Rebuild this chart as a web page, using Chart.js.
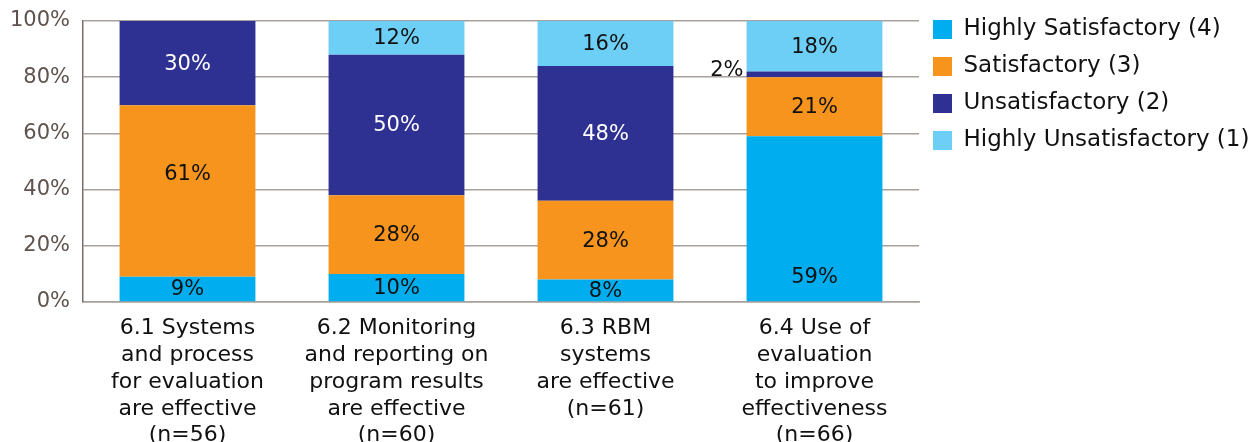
<!DOCTYPE html>
<html>
<head>
<meta charset="utf-8">
<script src="https://cdn.jsdelivr.net/npm/chart.js@4.4.0/dist/chart.umd.min.js"></script>
<style>
    body { margin: 0; background: #fff; }
    #wrap { width: 1256px; height: 442px; }
</style>
</head>
<body>
<div id="wrap"><canvas id="grafico"></canvas></div>
<script>
// categorias do eixo x (cada uma em varias linhas)
const categorias = [
    ['6.1 Systems', 'and process', 'for evaluation', 'are effective', '(n=56)'],
    ['6.2 Monitoring', 'and reporting on', 'program results', 'are effective', '(n=60)'],
    ['6.3 RBM', 'systems', 'are effective', '(n=61)'],
    ['6.4 Use of', 'evaluation', 'to improve', 'effectiveness', '(n=66)']
];

const altamenteSatisf = [9, 10, 8, 59];
const satisf = [61, 28, 28, 21];
const insatisf = [30, 50, 48, 2];
const altamenteInsatisf = [0, 12, 16, 18];

const yTicks = [0, 20, 40, 60, 80, 100];

const CORES = {
    hs: '#00aeef',
    s: '#f7941d',
    u: '#2e3192',
    hu: '#6dcff6'
};

const FONTE = '"DejaVu Sans", sans-serif';

// escreve as porcentagens dentro das barras
const rotulos = {
    id: 'rotulos',
    afterDatasetsDraw(chart, args, opts) {
        const ctx = chart.ctx;
        ctx.save();
        ctx.font = '21px ' + FONTE;
        ctx.textBaseline = 'middle';
        chart.data.datasets.forEach(function(ds, i) {
            const meta = chart.getDatasetMeta(i);
            meta.data.forEach(function(bar, j) {
                const v = ds.data[j];
                if (!v) return;
                let yc = (bar.y + bar.base) / 2;
                const desloc = opts.deslocamentos[i + '-' + j];
                if (desloc) yc += desloc; // alguns rotulos nao ficam no meio no original
                ctx.fillStyle = ds.corTexto;
                if (v < 5) {
                    // segmento muito fino: rotulo fica do lado esquerdo
                    ctx.textAlign = 'right';
                    ctx.fillStyle = '#111';
                    ctx.fillText(v + '%', bar.x - bar.width / 2 - 3, yc - 4);
                } else {
                    ctx.textAlign = 'center';
                    ctx.fillText(v + '%', bar.x, yc + 1);
                }
            });
        });
        ctx.restore();
    }
};

new Chart(document.getElementById('grafico'), {
    type: 'bar',
    data: {
        labels: categorias,
        datasets: [
            { label: 'Highly Satisfactory (4)', data: altamenteSatisf, backgroundColor: CORES.hs, corTexto: '#111' },
            { label: 'Satisfactory (3)', data: satisf, backgroundColor: CORES.s, corTexto: '#111' },
            { label: 'Unsatisfactory (2)', data: insatisf, backgroundColor: CORES.u, corTexto: '#fff' },
            { label: 'Highly Unsatisfactory (1)', data: altamenteInsatisf, backgroundColor: CORES.hu, corTexto: '#111' }
        ]
    },
    options: {
        responsive: true,
        maintainAspectRatio: false,
        animation: false,
        datasets: { bar: { categoryPercentage: 0.65, barPercentage: 1 } },
        layout: { padding: { top: 4, right: 0, left: 0, bottom: 0 } },
        plugins: {
            legend: {
                position: 'right',
                align: 'start',
                maxWidth: 337, // senao o chart.js limita a 1/4 da largura
                labels: {
                    boxWidth: 19,
                    boxHeight: 19,
                    padding: 14,
                    color: '#111',
                    font: { size: 23, family: FONTE }
                }
            },
            tooltip: { enabled: false },
            rotulos: { deslocamentos: { '1-0': -17, '0-3': 58 } }
        },
        scales: {
            x: {
                stacked: true,
                grid: { display: false },
                border: { color: '#a8a09c', width: 1.5 },
                afterFit: function(axis) { axis.height = 140; },
                ticks: {
                    color: '#111',
                    padding: 5,
                    maxRotation: 0,
                    autoSkip: false,
                    font: { size: 22, family: FONTE, lineHeight: 1.22 }
                }
            },
            y: {
                stacked: true,
                min: 0,
                max: 100,
                afterBuildTicks: function(axis) {
                    axis.ticks = yTicks.map(function(v) { return { value: v }; });
                },
                afterFit: function(axis) {
                    axis.width = 83;
                    axis.paddingTop = 21;
                },
                grid: { color: '#a8a09c', lineWidth: 1.5, drawTicks: false },
                border: { color: '#7a6e6a', width: 1.5 },
                ticks: {
                    color: '#5d524d',
                    padding: 13,
                    font: { size: 21, family: FONTE },
                    callback: function(v) { return v + '%'; }
                }
            }
        }
    },
    plugins: [rotulos]
});
</script>
</body>
</html>
